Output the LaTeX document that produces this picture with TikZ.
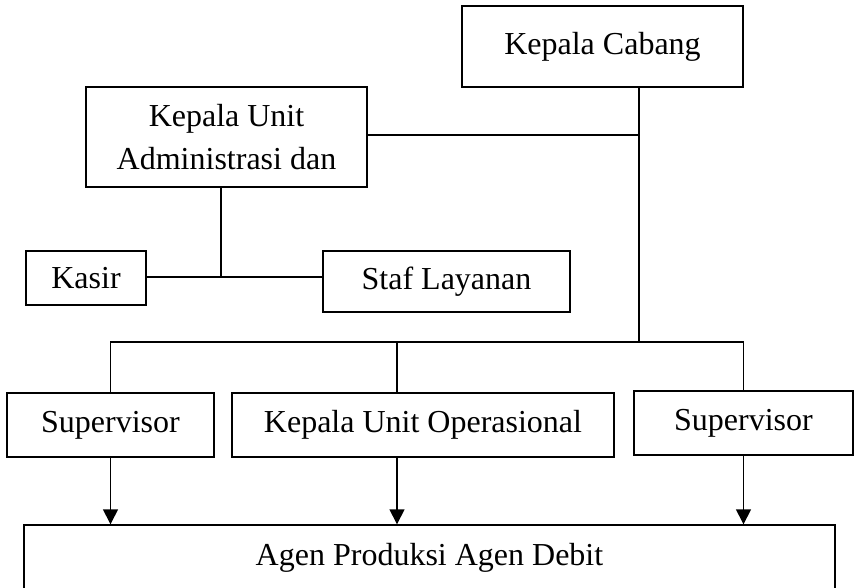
\documentclass[tikz,border=0pt]{standalone}
\usepackage{fontspec}
\setmainfont{Liberation Serif}
\usetikzlibrary{arrows.meta,calc,positioning}

\begin{document}
\begin{tikzpicture}[x=1pt,y=-1pt,>={Triangle[width=15pt,length=15pt]},
  box/.style={draw,line width=1.4pt,inner sep=0pt,align=center,font=\fontsize{32}{43}\selectfont},
  link/.style={line width=1.4pt}]
\useasboundingbox (0,0) rectangle (854,587);
\node[box,minimum width=281pt,minimum height=81pt] (cabang) at (602.5,46.5) {Kepala Cabang};
\node[box,minimum width=281pt,minimum height=100pt] (unitadm) at (226.5,137) {Kepala Unit\\Administrasi dan};
\node[box,minimum width=120pt,minimum height=54pt] (kasir) at (86,278) {Kasir};
\node[box,minimum width=247pt,minimum height=61pt] (staf) at (446.5,281.5) {Staf Layanan};
\node[box,minimum width=207pt,minimum height=64pt] (sup1) at (110.5,425) {Supervisor};
\node[box,minimum width=382pt,minimum height=64pt] (kuo) at (423,425) {Kepala Unit Operasional};
\node[box,minimum width=219pt,minimum height=64pt] (sup2) at (743.5,423) {Supervisor};
\node[box,minimum width=811pt,minimum height=66pt] (agen) at (429.5,558) {Agen Produksi Agen Debit};
\coordinate (trunk) at (639,135);
\coordinate (bus) at (639,342);
\coordinate (mid) at (397,342);
\coordinate (split) at (221,277);
\draw[link] (cabang.south -| trunk) -- (bus);
\draw[link] (unitadm.east |- trunk) -- (trunk);
\draw[link] (unitadm.south -| split) -- (split);
\draw[link] (kasir.east |- split) -- (staf.west |- split);
\draw[link] (sup1.north) -- (sup1.north |- bus) -- (sup2.north |- bus) -- (sup2.north);
\draw[link] (mid) -- (kuo.north -| mid);
\draw[link,->] (sup1.south) -- (agen.north -| sup1.south);
\draw[link,->] (kuo.south -| mid) -- (agen.north -| mid);
\draw[link,->] (sup2.south) -- (agen.north -| sup2.south);
\end{tikzpicture}
\end{document}
